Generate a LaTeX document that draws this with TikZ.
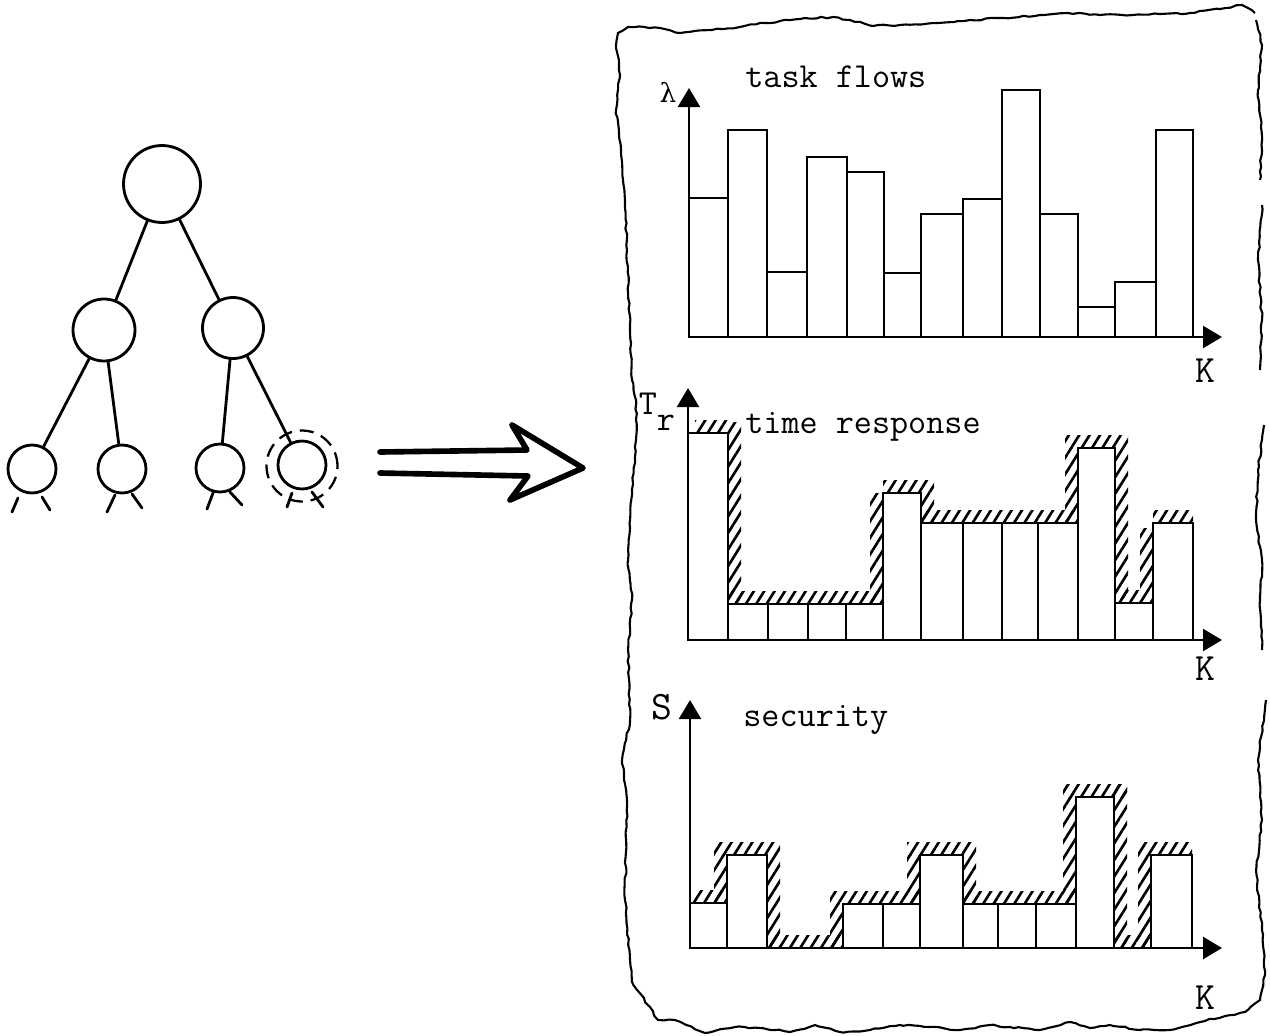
\documentclass[tikz,border=0pt]{standalone}
\usepackage{fontspec}
\newfontfamily\grk{DejaVu Serif}
\usetikzlibrary{arrows.meta,patterns.meta,decorations.pathmorphing}
\pgfmathsetseed{7}
\newcommand{\typewr}{\ttfamily\addfontfeatures{FakeBold=2}}
\tikzset{
  vertex/.style={circle, draw, line width=1.6pt, inner sep=0pt},
  treeline/.style={line width=1.6pt, line cap=round},
  halo/.style={circle, draw, line width=1.3pt, inner sep=0pt, dash pattern=on 0.28cm off 0.16cm},
  fatarrow/.style={line width=3.2pt, line join=round, line cap=round},
  bar/.style={line width=1.1pt},
  axis/.style={line width=1.4pt, -{Triangle[width=0.44cm,length=0.38cm]}},
  hatch/.style={pattern={Lines[angle=58,distance=5pt,line width=1.5pt]}},
  frame/.style={line width=1.2pt, decorate, decoration={random steps, segment length=3pt, amplitude=0.5pt}},
  lbl/.style={font=\typewr\fontsize{20}{22}\selectfont, inner sep=0pt},
  klbl/.style={font=\typewr\fontsize{22}{24}\selectfont, inner sep=0pt},
  small/.style={font=\typewr\fontsize{20}{22}\selectfont, inner sep=0pt}
}
\begin{document}
\begin{tikzpicture}[x=0.02cm, y=-0.02cm]
\useasboundingbox (0,0) rectangle (1270,1035);

% ---------- tree ----------
\node[vertex, minimum size=1.54cm] (root) at (162,184) {};
\node[vertex, minimum size=1.24cm] (nl) at (104,330) {};
\node[vertex, minimum size=1.22cm] (nr) at (233,328) {};
\node[vertex, minimum size=0.96cm] (l1) at (32,469) {};
\node[vertex, minimum size=0.96cm] (l2) at (122,469) {};
\node[vertex, minimum size=0.96cm] (l3) at (220,468) {};
\node[vertex, minimum size=0.96cm] (l4) at (302,465) {};
\node[halo, minimum size=1.42cm] (ring) at (302,466) {};

\draw[treeline] (root) -- (nl);
\draw[treeline] (root) -- (nr);
\draw[treeline] (nl) -- (l1);
\draw[treeline] (nl) -- (l2);
\draw[treeline] (nr) -- (l3);
\draw[treeline] (nr) -- (l4);

% stubs of the next level below each leaf
\draw[treeline] ([shift={(-14,29)}]l1.center) -- ++(-6,14);
\draw[treeline] ([shift={(10,28)}]l1.center) -- ++(8,13);
\draw[treeline] ([shift={(-7,26)}]l2.center) -- ++(-8,17);
\draw[treeline] ([shift={(10,25)}]l2.center) -- ++(10,14);
\draw[treeline] ([shift={(-7,25)}]l3.center) -- ++(-6,16);
\draw[treeline] ([shift={(10,24)}]l3.center) -- ++(12,13);
\draw[treeline] ([shift={(-10,28)}]l4.center) -- ++(-5,14);
\draw[treeline] ([shift={(10,27)}]l4.center) -- ++(11,15);

% ---------- double arrow ----------
\coordinate (atail) at (380,462);
\coordinate (atip) at (583,468);
\draw[fatarrow] ([yshift=0.2cm]atail) -- (527,450) -- (512,425) -- (atip)
  -- (510,500) -- (528,476) -- ([yshift=-0.22cm]atail);

% ---------- panel frame ----------
\draw[frame] (616,45) -- (618,33) -- (628,27) -- (660,28) -- (680,33) -- (712,30)
  -- (740,27) -- (764,23) -- (800,19) -- (833,17) -- (850,20) -- (873,26)
  -- (900,25) -- (938,23) -- (970,20) -- (1003,18) -- (1040,15) -- (1068,13)
  -- (1100,15) -- (1133,15) -- (1160,14) -- (1190,13) -- (1220,9) -- (1242,5) -- (1255,13);
\draw[frame] (1256,20) -- (1262,45) -- (1258,90) -- (1262,140) -- (1260,180);
\draw[frame] (1262,205) -- (1258,260) -- (1262,320) -- (1260,370);
\draw[frame] (1264,425) -- (1258,470) -- (1256,520) -- (1262,560) -- (1260,600) -- (1262,650);
\draw[frame] (1266,700) -- (1258,760) -- (1262,820) -- (1256,870) -- (1262,930)
  -- (1265,975) -- (1260,1000) -- (1245,1012) -- (1225,1016) -- (1200,1022)
  -- (1170,1030) -- (1140,1030) -- (1110,1025) -- (1090,1028) -- (1070,1022)
  -- (1040,1030) -- (1010,1027) -- (990,1025) -- (960,1030) -- (930,1027)
  -- (900,1025) -- (870,1030) -- (840,1032) -- (815,1025) -- (790,1032)
  -- (760,1028) -- (735,1027) -- (705,1033) -- (675,1020) -- (658,1020)
  -- (632,982) -- (630,960) -- (625,900) -- (627,800) -- (622,760) -- (630,720)
  -- (628,650) -- (632,600) -- (628,560) -- (630,520) -- (636,440) -- (636,400)
  -- (632,380) -- (630,330) -- (627,250) -- (625,200) -- (621,150) -- (616,110)
  -- (620,75) -- (616,45);

% ---------- chart: task flows ----------
\foreach \a/\b/\t in {689/728/198, 728/767/130, 767/807/272, 807/847/157,
    847/884/172, 884/921/273, 921/963/214, 963/1002/199, 1002/1040/90,
    1040/1078/214, 1078/1115/307, 1115/1156/282, 1156/1193/130}
  \draw[bar] (\a,337) rectangle (\b,\t);
\coordinate (o1) at (689,337);
\draw[axis] (o1) -- (689,88);
\draw[axis] (o1) -- (1222,337);
\node[inner sep=0pt, font=\grk\fontsize{15}{17}\selectfont] (lam) at (668,92) {λ};
\node[lbl, anchor=base west] (title1) at (745,87) {task flows};
\node[klbl] (k1) at (1205,371) {K};

% ---------- chart: time response ----------
\foreach \x/\y/\u/\v in {695/420/728/433, 728/422/741/604, 728/591/883/604,
    870/493/883/604, 883/480/921/493, 921/480/934/523, 921/510/1078/523,
    1065/448/1078/523, 1065/435/1115/448, 1115/435/1128/598, 1118/590/1140/603,
    1140/528/1153/603, 1153/510/1193/523}
  \fill[hatch] (\x,\y) rectangle (\u,\v);
\foreach \a/\b/\t in {688/728/433, 728/768/604, 768/808/604, 808/846/604,
    846/883/604, 883/921/493, 921/963/523, 963/1002/523, 1002/1038/523,
    1038/1078/523, 1078/1115/448, 1115/1153/603, 1153/1193/523}
  \draw[bar] (\a,640) rectangle (\b,\t);
\coordinate (o2) at (688,640);
\draw[axis] (o2) -- (688,388);
\draw[axis] (o2) -- (1222,640);
\node[small] (tsym) at (648,404) {T};
\node[small] (rsym) at (666,423) {r};
\node[lbl, anchor=base west] (title2) at (745,433) {time response};
\node[klbl] (k2) at (1205,669) {K};

% ---------- chart: security ----------
\foreach \x/\y/\u/\v in {693/890/727/903, 714/855/727/903, 714/842/767/855,
    767/842/780/948, 767/935/843/948, 830/904/843/948, 830/891/920/904,
    907/855/920/904, 907/842/963/855, 963/842/976/904, 963/891/1076/904,
    1063/797/1076/904, 1063/784/1127/797, 1114/784/1127/948, 1114/935/1151/948,
    1138/855/1151/948, 1138/842/1192/855}
  \fill[hatch] (\x,\y) rectangle (\u,\v);
\foreach \a/\b/\t in {690/727/903, 727/767/855, 843/883/904, 883/920/904,
    920/963/855, 963/998/904, 998/1036/904, 1036/1076/904, 1076/1114/797,
    1151/1192/855}
  \draw[bar] (\a,948) rectangle (\b,\t);
\coordinate (o3) at (690,948);
\draw[axis] (o3) -- (690,700);
\draw[axis] (o3) -- (1222,948);
\node[small, font=\typewr\fontsize{23}{25}\selectfont] (ssym) at (662,707) {S};
\node[lbl, anchor=base west] (title3) at (743,726) {security};
\node[klbl] (k3) at (1205,998) {K};
\end{tikzpicture}
\end{document}
